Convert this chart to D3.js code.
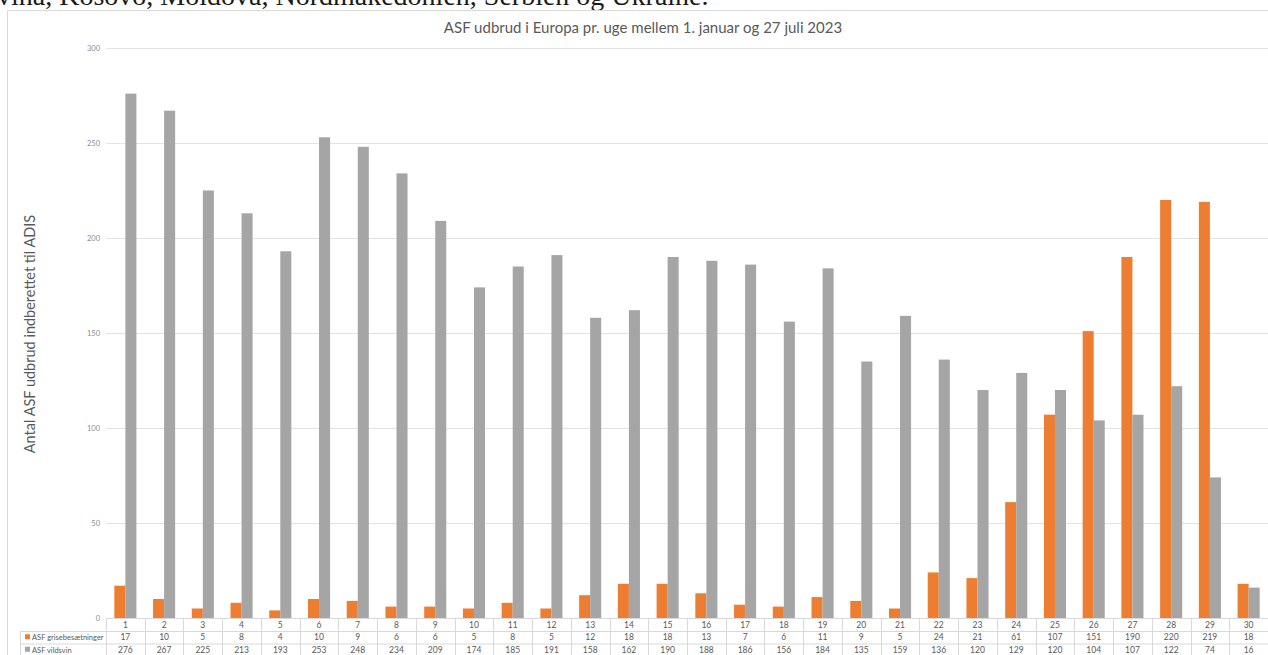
<!DOCTYPE html>
<html><head><meta charset="utf-8">
<script src="https://cdn.jsdelivr.net/npm/d3@7/dist/d3.min.js"></script>
<style>html,body{margin:0;padding:0;background:#fff;overflow:hidden}svg{display:block}</style>
</head><body>
<script>
const weeks = d3.range(1, 31).map(String);
const pigs = [17,10,5,8,4,10,9,6,6,5,8,5,12,18,18,13,7,6,11,9,5,24,21,61,107,151,190,220,219,18];
const wild = [276,267,225,213,193,253,248,234,209,174,185,191,158,162,190,188,186,156,184,135,159,136,120,129,120,104,107,122,74,16];
const seriesNames = ["ASF grisebesætninger", "ASF vildsvin"];
const colors = ["#ED7D31", "#A5A5A5"];
const yTicks = [0, 50, 100, 150, 200, 250, 300];
const title = "ASF udbrud i Europa pr. uge mellem 1. januar og 27 juli 2023";
const yTitle = "Antal ASF udbrud indberettet til ADIS";
const topText = "vina, Kosovo, Moldova, Nordmakedonien, Serbien og Ukraine.";

const W = 1268, H = 655;
const svg = d3.select("body").append("svg").attr("width", W).attr("height", H);
const font = "Lato, 'Open Sans', sans-serif";

// cropped text line above (cut off at the top edge, as in the reference)
svg.append("text").attr("x", -3).attr("y", 5).attr("font-family", "'Liberation Serif', 'DejaVu Serif', serif")
  .attr("font-size", 28).attr("fill", "#1a1a1a").text(topText);

// frame
svg.append("line").attr("x1", 7).attr("x2", W).attr("y1", 10.5).attr("y2", 10.5).attr("stroke", "#d9d9d9");
svg.append("line").attr("x1", 7.5).attr("x2", 7.5).attr("y1", 10).attr("y2", H).attr("stroke", "#d9d9d9");

const x0 = d3.scaleBand().domain(weeks).range([106, 1268]).padding(0);
const bw = x0.bandwidth();
const x1 = d3.scaleBand().domain(seriesNames).range([bw * 0.215, bw * 0.785]).padding(0);
const y = d3.scaleLinear().domain([0, 300]).range([618, 48]);

// gridlines
svg.append("g").selectAll("line").data(yTicks.filter(d => d > 0)).join("line")
  .attr("x1", 106).attr("x2", W).attr("y1", d => Math.round(y(d)) + 0.5).attr("y2", d => Math.round(y(d)) + 0.5)
  .attr("stroke", "#e3e3e3");

// y axis
const yAxis = d3.axisLeft(y).tickValues(yTicks).tickSize(0).tickPadding(6);
const gy = svg.append("g").attr("transform", "translate(106,0)").call(yAxis);
gy.select(".domain").remove();
gy.selectAll("text").attr("font-family", font).attr("font-size", 7.5).attr("fill", "#8c8c8c");

// bars
const series = [pigs, wild];
const gBars = svg.append("g");
series.forEach((vals, si) => {
  gBars.append("g").selectAll("rect").data(weeks).join("rect")
    .attr("x", (d) => x0(d) + x1(seriesNames[si]))
    .attr("width", x1.bandwidth())
    .attr("y", (d, i) => y(vals[i]))
    .attr("height", (d, i) => y(0) - y(vals[i]))
    .attr("fill", colors[si]);
});

// data table
const rowY = [618, 631, 643.5, 656];
const tbl = svg.append("g");
const lineC = "#d9d9d9";
tbl.append("line").attr("x1", 106).attr("x2", W).attr("y1", rowY[0] + 0.5).attr("y2", rowY[0] + 0.5).attr("stroke", lineC);
[rowY[1], rowY[2]].forEach(yy => tbl.append("line").attr("x1", 20).attr("x2", W).attr("y1", yy + 0.5).attr("y2", yy + 0.5).attr("stroke", lineC));
tbl.append("line").attr("x1", 20.5).attr("x2", 20.5).attr("y1", rowY[1]).attr("y2", H).attr("stroke", lineC);
weeks.forEach(w => {
  const xx = Math.round(x0(w)) + 0.5;
  tbl.append("line").attr("x1", xx).attr("x2", xx).attr("y1", rowY[0]).attr("y2", H).attr("stroke", lineC);
});
tbl.append("g").selectAll("text").data(weeks).join("text")
  .attr("x", d => x0(d) + bw / 2).attr("y", (rowY[0] + rowY[1]) / 2 + 3)
  .attr("text-anchor", "middle").attr("font-family", font).attr("font-size", 8.5).attr("fill", "#595959").text(d => d);
series.forEach((vals, si) => {
  const cy = (rowY[si + 1] + rowY[si + 2]) / 2 + 3;
  tbl.append("g").selectAll("text").data(weeks).join("text")
    .attr("x", d => x0(d) + bw / 2).attr("y", cy)
    .attr("text-anchor", "middle").attr("font-family", font).attr("font-size", 8.5).attr("fill", "#595959")
    .text((d, i) => vals[i]);
  tbl.append("rect").attr("x", 25).attr("y", cy - 6).attr("width", 5).attr("height", 5).attr("fill", colors[si]);
  tbl.append("text").attr("x", 32).attr("y", cy).attr("font-family", font).attr("font-size", 7.5)
    .attr("fill", "#595959").text(seriesNames[si]);
});

// title
svg.append("text").attr("x", 643).attr("y", 33).attr("text-anchor", "middle")
  .attr("font-family", font).attr("font-size", 15).attr("fill", "#595959").text(title);

// y title
svg.append("text").attr("transform", "translate(35,334) rotate(-90)").attr("text-anchor", "middle")
  .attr("font-family", font).attr("font-size", 14.5).attr("fill", "#595959").text(yTitle);
</script>
</body></html>
